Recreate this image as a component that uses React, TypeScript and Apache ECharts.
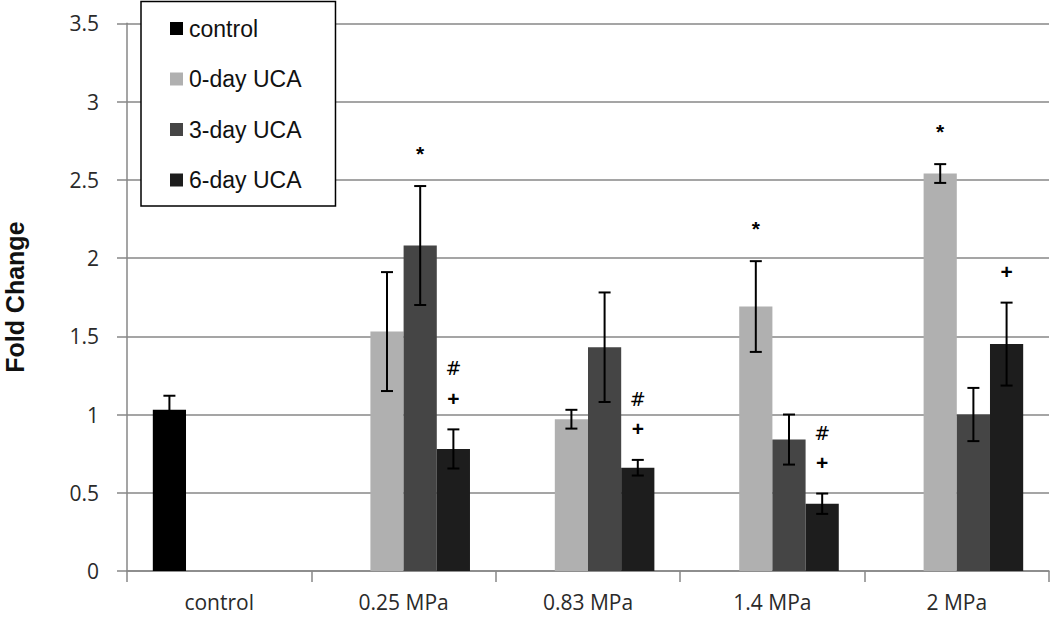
import React, { useEffect, useRef } from "react";
import * as echarts from "echarts";

const categories = ["control", "0.25 MPa", "0.83 MPa", "1.4 MPa", "2 MPa"];
const seriesNames = ["control", "0-day UCA", "3-day UCA", "6-day UCA"];
const seriesColors = ["#000000", "#b0b0b0", "#454545", "#1d1d1d"];

const controlValues = [1.03, null, null, null, null];
const controlErrors = [0.09, null, null, null, null];
const controlMarks = ["", "", "", "", ""];

const day0Values = [null, 1.53, 0.97, 1.69, 2.54];
const day0Errors = [null, 0.38, 0.06, 0.29, 0.06];
const day0Marks = ["", "", "", "*", "*"];

const day3Values = [null, 2.08, 1.43, 0.84, 1.0];
const day3Errors = [null, 0.38, 0.35, 0.16, 0.17];
const day3Marks = ["", "*", "", "", ""];

const day6Values = [null, 0.78, 0.66, 0.43, 1.45];
const day6Errors = [null, 0.125, 0.05, 0.065, 0.265];
const day6Marks = ["", "+#", "+#", "+#", "+"];

const yTicks = { min: 0, max: 3.5, interval: 0.5 };

const allValues = [controlValues, day0Values, day3Values, day6Values];
const allErrors = [controlErrors, day0Errors, day3Errors, day6Errors];
const allMarks = [controlMarks, day0Marks, day3Marks, day6Marks];

const CATEGORY_GAP = 0.28;

export default function App() {
  const ref = useRef<HTMLDivElement>(null);

  useEffect(() => {
    if (!ref.current) return;
    const chart = echarts.init(ref.current, undefined, { renderer: "svg" });

    const errData: number[][] = [];
    const errMarks: string[] = [];
    allValues.forEach((vals, k) => {
      vals.forEach((v, i) => {
        if (v !== null && v !== undefined) {
          errData.push([i, k, v as number, (allErrors[k][i] as number) || 0]);
          errMarks.push(allMarks[k][i]);
        }
      });
    });

    const gridColor = "#878787";

    const option: any = {
      animation: false,
      backgroundColor: "#ffffff",
      grid: {
        left: 127,
        right: 1,
        top: 23.3,
        bottom: 46,
        containLabel: false,
        outerBoundsMode: "none",
      },
      legend: {
        data: seriesNames,
        orient: "vertical",
        left: 141,
        top: 1.5,
        icon: "rect",
        itemWidth: 13,
        itemHeight: 13,
        itemGap: 26.5,
        padding: [15, 34, 14, 29],
        backgroundColor: "#ffffff",
        borderColor: "#000000",
        borderWidth: 1.5,
        borderRadius: 0,
        selectedMode: false,
        textStyle: {
          fontFamily: "Liberation Sans",
          fontSize: 23,
          lineHeight: 24,
          color: "#111111",
          padding: [0, 0, 0, 1],
        },
      },
      xAxis: {
        type: "category",
        data: categories,
        boundaryGap: true,
        axisLine: { show: true, lineStyle: { color: gridColor, width: 1.5 } },
        axisTick: { show: true, length: 11, alignWithLabel: false, lineStyle: { color: gridColor, width: 1.5 } },
        axisLabel: {
          margin: 22,
          fontFamily: "Open Sans",
          fontSize: 21,
          lineHeight: 18,
          color: "#2a2a2a",
        },
        splitLine: { show: false },
      },
      yAxis: {
        type: "value",
        min: yTicks.min,
        max: yTicks.max,
        interval: yTicks.interval,
        name: "Fold Change",
        nameLocation: "middle",
        nameGap: 100,
        nameRotate: 90,
        nameTextStyle: {
          fontFamily: "Liberation Sans",
          fontWeight: "bold",
          fontSize: 25,
          color: "#111111",
        },
        axisLine: { show: true, lineStyle: { color: gridColor, width: 1.5 } },
        axisTick: { show: true, length: 10, lineStyle: { color: gridColor, width: 1.5 } },
        axisLabel: {
          margin: 28,
          fontFamily: "Open Sans",
          fontSize: 21,
          color: "#2a2a2a",
        },
        splitLine: { show: true, lineStyle: { color: gridColor, width: 1.5 } },
      },
      series: [
        ...seriesNames.map((name, k) => ({
          name,
          type: "bar",
          data: allValues[k].map((v) => (v === null ? "-" : v)),
          barGap: "0%",
          barCategoryGap: CATEGORY_GAP * 100 + "%",
          itemStyle: { color: seriesColors[k] },
          z: 2,
        })),
        {
          type: "custom",
          name: "errors",
          data: errData,
          z: 5,
          clip: false,
          renderItem: (params: any, api: any) => {
            const cat = api.value(0);
            const k = api.value(1);
            const v = api.value(2);
            const e = api.value(3);
            const band = api.size([1, 0])[0];
            const bw = (band * (1 - CATEGORY_GAP)) / 4;
            const cx = api.coord([cat, 0])[0] - (band * (1 - CATEGORY_GAP)) / 2 + bw * (k + 0.5);
            const yTop = api.coord([cat, v + e])[1];
            const yBot = api.coord([cat, v - e])[1];
            const cap = 6;
            const ls = { stroke: "#000000", lineWidth: 2 };
            const children: any[] = [
              { type: "line", shape: { x1: cx, y1: yTop, x2: cx, y2: yBot }, style: ls },
              { type: "line", shape: { x1: cx - cap, y1: yTop, x2: cx + cap, y2: yTop }, style: ls },
              { type: "line", shape: { x1: cx - cap, y1: yBot, x2: cx + cap, y2: yBot }, style: ls },
            ];
            const marks = errMarks[params.dataIndex] || "";
            marks.split("").forEach((m, j) => {
              const y = m === "*" ? yTop - 33 : yTop - 31 - j * 30;
              children.push({
                type: "text",
                style: {
                  text: m,
                  x: cx,
                  y,
                  align: "center",
                  verticalAlign: "middle",
                  font: m === "#" ? '19px "DejaVu Sans"' : 'bold 21px "Liberation Sans"',
                  fill: "#000000",
                },
              });
            });
            return { type: "group", children };
          },
        },
      ],
    };

    chart.setOption(option);
    return () => chart.dispose();
  }, []);

  return (
    <div
      ref={ref}
      style={{ position: "absolute", left: 0, top: 0, width: 1050, height: 617, background: "#fff" }}
    />
  );
}
